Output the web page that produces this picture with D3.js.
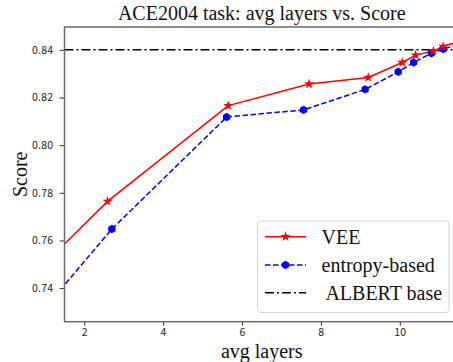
<!DOCTYPE html>
<meta charset="utf-8">
<style>
body { margin: 0; background: #fff; }
svg { display: block; }
.tick text { font-family: "Liberation Sans Narrow", "Noto Sans CJK SC", sans-serif; font-size: 10.5px; fill: #222; letter-spacing: 0.3px; }
.serif { font-family: "Liberation Serif", "Times New Roman", serif; fill: #111; }
</style>
<svg width="453" height="362"></svg>
<script src="https://d3js.org/d3.v7.min.js"></script>
<script>
// values
var veeLayers = [1.0, 2.59, 5.65, 7.70, 9.20, 10.06, 10.40, 10.85, 11.10, 12.0];
var veeScore  = [0.7503, 0.7764, 0.8166, 0.8257, 0.8284, 0.8347, 0.8378, 0.8395, 0.8415, 0.8460];
var entLayers = [1.0, 2.70, 5.61, 7.56, 9.12, 9.96, 10.35, 10.80, 11.10, 12.0];
var entScore  = [0.7316, 0.7648, 0.8118, 0.8148, 0.8234, 0.8308, 0.8347, 0.8386, 0.8403, 0.8450];
var albertBase = 0.84;
var xTicks = [2, 4, 6, 8, 10];
var yTicks = [0.74, 0.76, 0.78, 0.80, 0.82, 0.84];
var legendNames = ["VEE", "entropy-based", " ALBERT base"];

var svg = d3.select("svg"),
    mLeft = 64.5, mRight = 459, mTop = 27, mBottom = 321.7;

var x = d3.scaleLinear().domain([1.5, 11.5]).range([mLeft, mRight]);
var y = d3.scaleLinear().domain([0.7259, 0.8496]).range([mBottom, mTop]);

svg.append("defs").append("clipPath").attr("id", "clip")
  .append("rect").attr("x", mLeft).attr("y", mTop)
  .attr("width", mRight - mLeft).attr("height", mBottom - mTop);

var plot = svg.append("g").attr("clip-path", "url(#clip)");

var line = d3.line().x(function(d) { return x(d[0]); }).y(function(d) { return y(d[1]); });
var vee = d3.zip(veeLayers, veeScore),
    ent = d3.zip(entLayers, entScore);

// ALBERT base reference
plot.append("line")
  .attr("x1", mLeft).attr("x2", mRight)
  .attr("y1", y(albertBase)).attr("y2", y(albertBase))
  .attr("stroke", "#000").attr("stroke-width", 1.5)
  .attr("stroke-dasharray", "9,3,2,3");

plot.append("path").datum(ent).attr("d", line)
  .attr("fill", "none").attr("stroke", "#0000ff").attr("stroke-width", 1.5)
  .attr("stroke-dasharray", "5.5,2.5");

plot.append("path").datum(vee).attr("d", line)
  .attr("fill", "none").attr("stroke", "#ff0000").attr("stroke-width", 1.5);

function hexagon(r) {
  var pts = d3.range(6).map(function(i) {
    var a = Math.PI / 3 * i;
    return [r * Math.sin(a), -r * Math.cos(a)];
  });
  return "M" + pts.join("L") + "Z";
}
var star = d3.symbol().type(d3.symbolStar).size(32);

plot.selectAll(".ent").data(ent).enter().append("path")
  .attr("class", "ent")
  .attr("transform", function(d) { return "translate(" + x(d[0]) + "," + y(d[1]) + ")"; })
  .attr("d", hexagon(4.2)).attr("fill", "#0000ff");

plot.selectAll(".vee").data(vee).enter().append("path")
  .attr("class", "vee")
  .attr("transform", function(d) { return "translate(" + x(d[0]) + "," + y(d[1]) + ")"; })
  .attr("d", star()).attr("fill", "#ff0000");

// axes
var xAxis = svg.append("g").attr("transform", "translate(0," + mBottom + ")")
  .call(d3.axisBottom(x).tickValues(xTicks).tickSize(4).tickPadding(2.5).tickFormat(d3.format("d")));
var yAxis = svg.append("g").attr("transform", "translate(" + mLeft + ",0)")
  .call(d3.axisLeft(y).tickValues(yTicks).tickSize(5).tickPadding(6).tickFormat(d3.format(".2f")));
[xAxis, yAxis].forEach(function(a) {
  a.select(".domain").remove();
  a.selectAll(".tick line").attr("stroke", "#333").attr("stroke-width", 1);
});

// spines
svg.append("rect")
  .attr("x", mLeft).attr("y", mTop)
  .attr("width", mRight - mLeft).attr("height", mBottom - mTop)
  .attr("fill", "none").attr("stroke", "#6b6b6b").attr("stroke-width", 1.5);

// titles
svg.append("text").attr("class", "serif")
  .attr("x", (mLeft + mRight) / 2).attr("y", 20)
  .attr("text-anchor", "middle").style("font-size", "20px")
  .text("ACE2004 task: avg layers vs. Score");
svg.append("text").attr("class", "serif")
  .attr("x", (mLeft + mRight) / 2).attr("y", 357.5)
  .attr("text-anchor", "middle").style("font-size", "20px")
  .text("avg layers");
svg.append("text").attr("class", "serif")
  .attr("transform", "translate(27," + (mTop + mBottom) / 2 + ") rotate(-90)")
  .attr("text-anchor", "middle").style("font-size", "20px")
  .text("Score");

// legend
var lg = svg.append("g");
lg.append("rect")
  .attr("x", 257.5).attr("y", 221).attr("width", 191.5).attr("height", 91.5)
  .attr("rx", 3).attr("fill", "#fff").attr("fill-opacity", 0.85)
  .attr("stroke", "#d6d6d6").attr("stroke-width", 1);

var rows = [236.7, 265, 292.7];
var styles = [
  { color: "#ff0000", dash: null },
  { color: "#0000ff", dash: "5.5,2.5" },
  { color: "#000", dash: "9,3,2,3" }
];
legendNames.forEach(function(name, i) {
  var yy = rows[i];
  lg.append("line").attr("x1", 265).attr("x2", 306).attr("y1", yy).attr("y2", yy)
    .attr("stroke", styles[i].color).attr("stroke-width", 1.5)
    .attr("stroke-dasharray", styles[i].dash);
  if (i === 0) lg.append("path").attr("transform", "translate(285.5," + yy + ")").attr("d", star()).attr("fill", "#ff0000");
  if (i === 1) lg.append("path").attr("transform", "translate(285.5," + yy + ")").attr("d", hexagon(4.2)).attr("fill", "#0000ff");
  lg.append("text").attr("class", "serif")
    .attr("x", 321.5).attr("y", yy + 7).style("font-size", "20px")
    .style("white-space", "pre")
    .text(name);
});
</script>
